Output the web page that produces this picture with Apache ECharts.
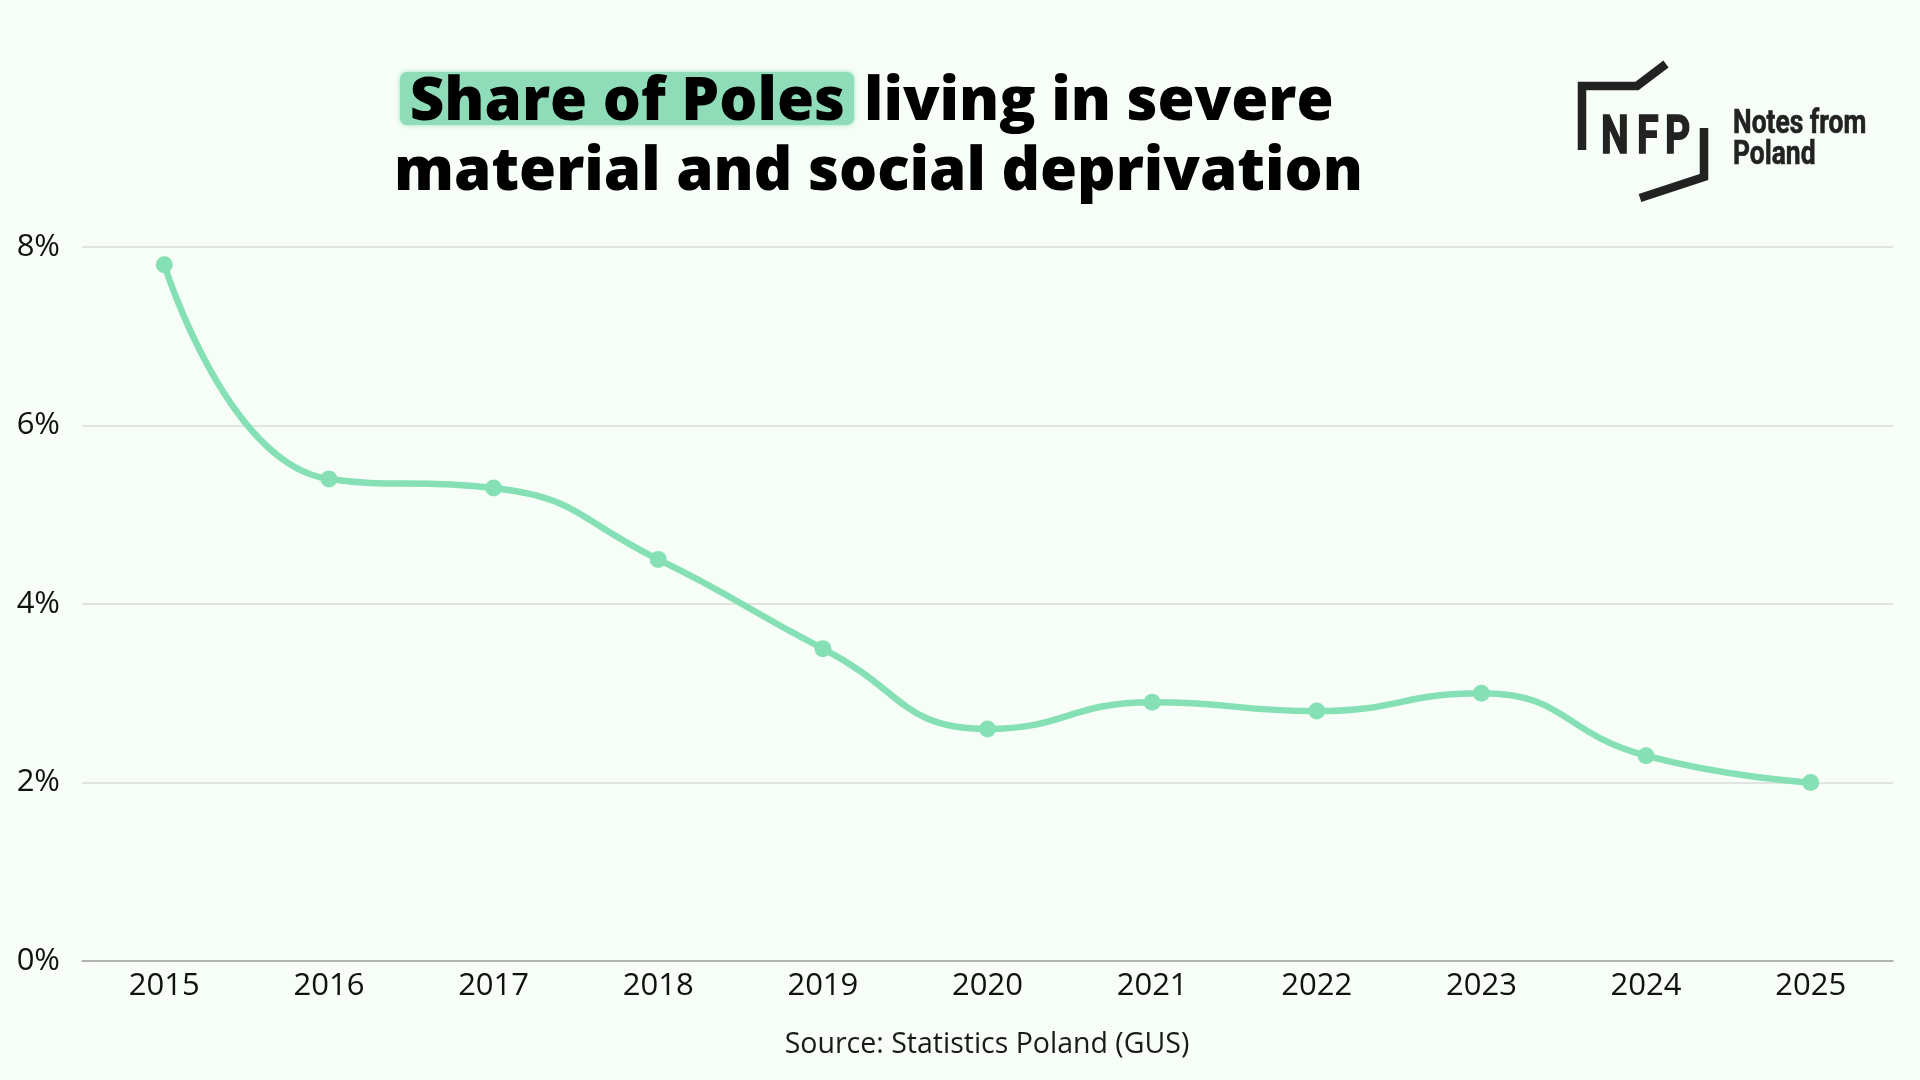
<!DOCTYPE html>
<html>
<head>
<meta charset="utf-8">
<script src="https://cdn.jsdelivr.net/npm/echarts@6/dist/echarts.min.js"></script>
<style>
  html, body { margin: 0; padding: 0; background: #f7fef7; }
  #chart { width: 1920px; height: 1080px; }
</style>
</head>
<body>
<div id="chart"></div>
<script>
const years = ['2015', '2016', '2017', '2018', '2019', '2020', '2021', '2022', '2023', '2024', '2025'];
const deprivationShare = [7.8, 5.4, 5.3, 4.5, 3.5, 2.6, 2.9, 2.8, 3.0, 2.3, 2.0];
const yTicks = [0, 2, 4, 6, 8];
const titleHighlight = 'Share of Poles';
const titleRest = 'living in severe';
const titleLine2 = 'material and social deprivation';
const sourceText = 'Source: Statistics Poland (GUS)';

const FONT = "'Open Sans', 'Noto Sans', sans-serif";
const LOGO_FONT = "Roboto, 'Liberation Sans', sans-serif";
const DARK = '#222222';
const MINT = '#86e0b6';

const chart = echarts.init(document.getElementById('chart'));
chart.setOption({
  backgroundColor: '#f7fef7',
  animation: false,
  grid: { left: 82, right: 27, top: 247, bottom: 119, containLabel: false },
  xAxis: {
    type: 'category',
    data: years,
    boundaryGap: true,
    axisLine: { show: true, lineStyle: { color: '#a3a3a3', width: 1.5 } },
    axisTick: { show: false },
    axisLabel: { color: '#111', fontFamily: FONT, fontSize: 31, margin: 10 },
    splitLine: { show: false }
  },
  yAxis: {
    type: 'value',
    min: yTicks[0],
    max: yTicks[yTicks.length - 1],
    interval: 2,
    axisLine: { show: false },
    axisTick: { show: false },
    axisLabel: { color: '#111', fontFamily: FONT, fontSize: 31, margin: 22, formatter: '{value}%' },
    splitLine: { show: true, lineStyle: { color: '#d9dcd9', width: 1.5 } }
  },
  series: [{
    type: 'line',
    data: deprivationShare,
    smooth: 0.5,
    symbol: 'circle',
    symbolSize: 17,
    showSymbol: true,
    lineStyle: { color: MINT, width: 6.5 },
    itemStyle: { color: MINT },
    z: 3
  }],
  graphic: [
    {
      type: 'rect', z: 9,
      shape: { x: 400, y: 72, width: 454, height: 53, r: 7 },
      style: { fill: '#8fdcb8', shadowBlur: 5, shadowColor: 'rgba(143,220,184,0.9)' }
    },
    {
      type: 'text', x: 845, y: 103, z: 10,
      style: { text: titleHighlight, align: 'right', verticalAlign: 'middle', fontFamily: FONT, fontSize: 60, fontWeight: 800, fill: '#000' }
    },
    {
      type: 'text', x: 864, y: 103, z: 10,
      style: { text: titleRest, align: 'left', verticalAlign: 'middle', fontFamily: FONT, fontSize: 60, fontWeight: 800, fill: '#000' }
    },
    {
      type: 'text', x: 878.5, y: 173, z: 10,
      style: { text: titleLine2, align: 'center', verticalAlign: 'middle', fontFamily: FONT, fontSize: 60, fontWeight: 800, fill: '#000' }
    },
    {
      type: 'text', x: 987, y: 1045, z: 10,
      style: { text: sourceText, align: 'center', verticalAlign: 'middle', fontFamily: FONT, fontSize: 28.5, fill: '#1a1a1a' }
    },
    // logo brackets
    {
      type: 'polyline', z: 10,
      shape: { points: [[1582, 150], [1582, 86], [1637, 86], [1666, 64]] },
      style: { stroke: DARK, lineWidth: 8.5, fill: null, lineJoin: 'miter', lineCap: 'butt' }
    },
    {
      type: 'polyline', z: 10,
      shape: { points: [[1704, 128], [1704, 177], [1640, 198]] },
      style: { stroke: DARK, lineWidth: 8.5, fill: null, lineJoin: 'miter', lineCap: 'butt' }
    },
    // NFP letters
    { type: 'text', x: 1601, y: 139.5, scaleX: 0.74, z: 10, style: { text: 'N', x: 0, y: 0, align: 'left', verticalAlign: 'middle', fontFamily: LOGO_FONT, fontSize: 53, fontWeight: 'bold', fill: DARK, stroke: DARK, lineWidth: 1.6 } },
    { type: 'text', x: 1637, y: 139.5, scaleX: 0.74, z: 10, style: { text: 'F', x: 0, y: 0, align: 'left', verticalAlign: 'middle', fontFamily: LOGO_FONT, fontSize: 53, fontWeight: 'bold', fill: DARK, stroke: DARK, lineWidth: 1.6 } },
    { type: 'text', x: 1665, y: 139.5, scaleX: 0.74, z: 10, style: { text: 'P', x: 0, y: 0, align: 'left', verticalAlign: 'middle', fontFamily: LOGO_FONT, fontSize: 53, fontWeight: 'bold', fill: DARK, stroke: DARK, lineWidth: 1.6 } },
    { type: 'text', x: 1733, y: 124.5, scaleX: 0.8, z: 10, style: { text: 'Notes from', x: 0, y: 0, align: 'left', verticalAlign: 'middle', fontFamily: LOGO_FONT, fontSize: 33, fontWeight: 'bold', fill: DARK, stroke: DARK, lineWidth: 0.6 } },
    { type: 'text', x: 1733, y: 156, scaleX: 0.8, z: 10, style: { text: 'Poland', x: 0, y: 0, align: 'left', verticalAlign: 'middle', fontFamily: LOGO_FONT, fontSize: 33, fontWeight: 'bold', fill: DARK, stroke: DARK, lineWidth: 0.6 } }
  ]
});
</script>
</body>
</html>
